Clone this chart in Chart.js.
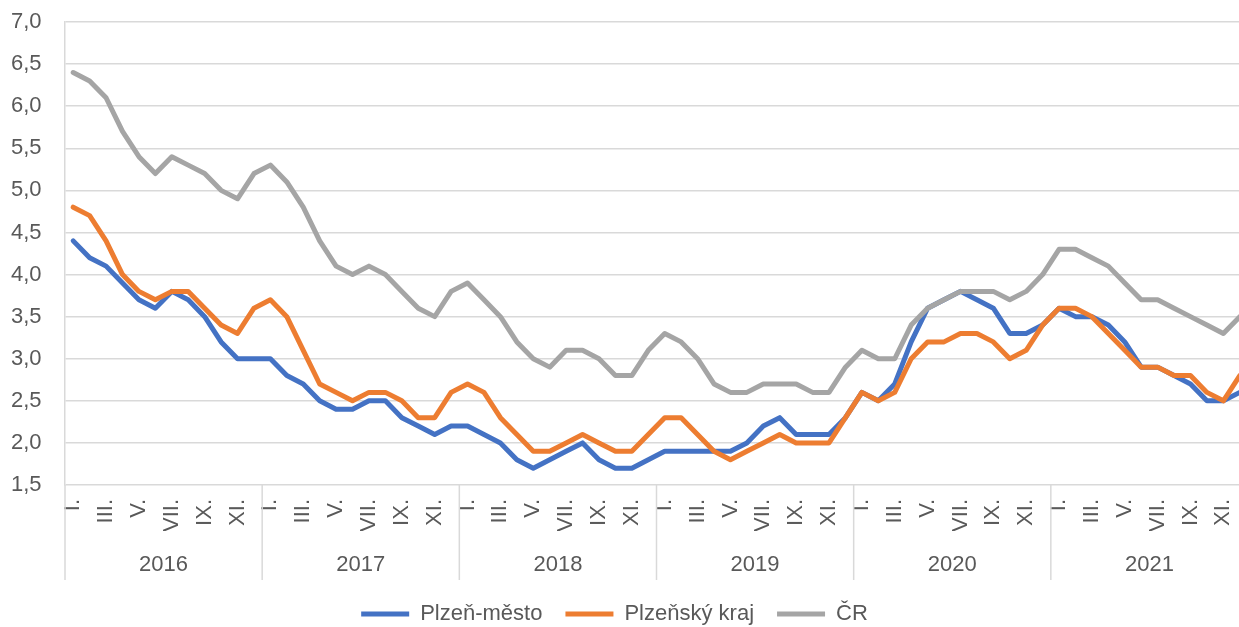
<!DOCTYPE html>
<html>
<head>
<meta charset="utf-8">
<script src="https://cdn.jsdelivr.net/npm/chart.js@4"></script>
<style>
  html, body { margin: 0; padding: 0; overflow: hidden; background: #ffffff; }
  #wrap { width: 1262px; height: 627px; }
</style>
</head>
<body>
<div id="wrap"><canvas id="c" width="1262" height="627"></canvas></div>
<script>
// ---- data ----
const years = ['2016', '2017', '2018', '2019', '2020', '2021'];
const monthTickLabels = ['I.', '', 'III.', '', 'V.', '', 'VII.', '', 'IX.', '', 'XI.', ''];

const plzenMesto = [
  4.4, 4.2, 4.1, 3.9, 3.7, 3.6, 3.8, 3.7, 3.5, 3.2, 3.0, 3.0,
  3.0, 2.8, 2.7, 2.5, 2.4, 2.4, 2.5, 2.5, 2.3, 2.2, 2.1, 2.2,
  2.2, 2.1, 2.0, 1.8, 1.7, 1.8, 1.9, 2.0, 1.8, 1.7, 1.7, 1.8,
  1.9, 1.9, 1.9, 1.9, 1.9, 2.0, 2.2, 2.3, 2.1, 2.1, 2.1, 2.3,
  2.6, 2.5, 2.7, 3.2, 3.6, 3.7, 3.8, 3.7, 3.6, 3.3, 3.3, 3.4,
  3.6, 3.5, 3.5, 3.4, 3.2, 2.9, 2.9, 2.8, 2.7, 2.5, 2.5, 2.6
];
const plzenskyKraj = [
  4.8, 4.7, 4.4, 4.0, 3.8, 3.7, 3.8, 3.8, 3.6, 3.4, 3.3, 3.6,
  3.7, 3.5, 3.1, 2.7, 2.6, 2.5, 2.6, 2.6, 2.5, 2.3, 2.3, 2.6,
  2.7, 2.6, 2.3, 2.1, 1.9, 1.9, 2.0, 2.1, 2.0, 1.9, 1.9, 2.1,
  2.3, 2.3, 2.1, 1.9, 1.8, 1.9, 2.0, 2.1, 2.0, 2.0, 2.0, 2.3,
  2.6, 2.5, 2.6, 3.0, 3.2, 3.2, 3.3, 3.3, 3.2, 3.0, 3.1, 3.4,
  3.6, 3.6, 3.5, 3.3, 3.1, 2.9, 2.9, 2.8, 2.8, 2.6, 2.5, 2.8
];
const cr = [
  6.4, 6.3, 6.1, 5.7, 5.4, 5.2, 5.4, 5.3, 5.2, 5.0, 4.9, 5.2,
  5.3, 5.1, 4.8, 4.4, 4.1, 4.0, 4.1, 4.0, 3.8, 3.6, 3.5, 3.8,
  3.9, 3.7, 3.5, 3.2, 3.0, 2.9, 3.1, 3.1, 3.0, 2.8, 2.8, 3.1,
  3.3, 3.2, 3.0, 2.7, 2.6, 2.6, 2.7, 2.7, 2.7, 2.6, 2.6, 2.9,
  3.1, 3.0, 3.0, 3.4, 3.6, 3.7, 3.8, 3.8, 3.8, 3.7, 3.8, 4.0,
  4.3, 4.3, 4.2, 4.1, 3.9, 3.7, 3.7, 3.6, 3.5, 3.4, 3.3, 3.5
];
const seriesNames = ['Plzeň-město', 'Plzeňský kraj', 'ČR'];
const seriesColors = ['#4472C4', '#ED7D31', '#A5A5A5'];

// ---- build categories ----
const categories = [];
years.forEach(y => monthTickLabels.forEach(m => categories.push(m)));

const FONT = "'Liberation Sans', Arial, sans-serif";
const TEXT = '#595959';
const GRID = '#d9d9d9';

const separators = {
  id: 'yearSeparators',
  afterDraw(chart) {
    const s = chart.scales.x2;
    const ca = chart.chartArea;
    const half = (s.getPixelForValue(1) - s.getPixelForValue(0)) / 2;
    const ctx = chart.ctx;
    ctx.save();
    ctx.strokeStyle = GRID;
    ctx.lineWidth = 1.5;
    for (let k = 0; k <= years.length; k++) {
      const px = s.getPixelForValue(k) - half;
      ctx.beginPath();
      ctx.moveTo(px, ca.bottom);
      ctx.lineTo(px, s.top + 49);
      ctx.stroke();
    }
    ctx.restore();
  }
};

// shift legend block slightly left (the original chart legend is off-centre)
const legendShift = {
  id: 'legendShift',
  afterLayout(chart) {
    const lg = chart.legend;
    if (lg) { lg.left -= 22; lg.right -= 22; }
  }
};

const values = [plzenMesto, plzenskyKraj, cr];
const datasets = values.map((v, i) => ({
  label: seriesNames[i],
  data: v,
  order: values.length - i,   // later series drawn on top, like the original
  borderColor: seriesColors[i],
  backgroundColor: seriesColors[i],
  borderWidth: 5,
  pointRadius: 0,
  pointHoverRadius: 0,
  pointStyle: 'line',
  tension: 0,
  borderCapStyle: 'round',
  borderJoinStyle: 'round'
}));

new Chart(document.getElementById('c'), {
  type: 'line',
  data: { labels: categories, datasets },
  options: {
    responsive: false,
    animation: false,
    devicePixelRatio: 1,
    layout: { padding: { top: 22, left: 11, right: 0, bottom: -8 } },
    plugins: {
      tooltip: { enabled: false },
      legend: {
        position: 'bottom',
        labels: {
          font: { family: FONT, size: 22 },
          color: TEXT,
          usePointStyle: true,
          pointStyle: 'line',
          pointStyleWidth: 48,
          padding: 23,
          sort: (a, b) => a.datasetIndex - b.datasetIndex
        }
      }
    },
    scales: {
      y: {
        min: 1.5,
        max: 7.0,
        afterFit: s => { s.width = 54; },
        ticks: {
          stepSize: 0.5,
          padding: 0,
          crossAlign: 'far',
          font: { family: FONT, size: 22 },
          color: TEXT,
          callback: v => v.toFixed(1).replace('.', ',')
        },
        grid: { color: GRID, lineWidth: 1.5, drawTicks: false, tickLength: 0 },
        border: { display: true, color: GRID, width: 1.5 }
      },
      yRight: {
        type: 'linear',
        position: 'right',
        afterFit: s => { s.width = 14; },
        ticks: { display: false },
        grid: { display: false, drawTicks: false },
        border: { display: false }
      },
      x: {
        position: 'bottom',
        weight: 0,
        offset: true,
        afterFit: s => { s.height = 46; },
        grid: { display: false, drawTicks: true, tickLength: 14 },
        border: { display: false },
        ticks: {
          autoSkip: false,
          minRotation: 90,
          maxRotation: 90,
          padding: 0,
          font: { family: FONT, size: 22, lineHeight: 1 },
          color: TEXT
        }
      },
      x2: {
        type: 'category',
        labels: years,
        position: 'bottom',
        weight: 1,
        offset: true,
        afterFit: s => { s.height = 49; },
        grid: { display: false, drawTicks: false, tickLength: 0 },
        border: { display: false },
        ticks: {
          autoSkip: false,
          maxRotation: 0,
          padding: 21,
          font: { family: FONT, size: 22 },
          color: TEXT
        }
      }
    }
  },
  plugins: [separators, legendShift]
});
</script>
</body>
</html>
